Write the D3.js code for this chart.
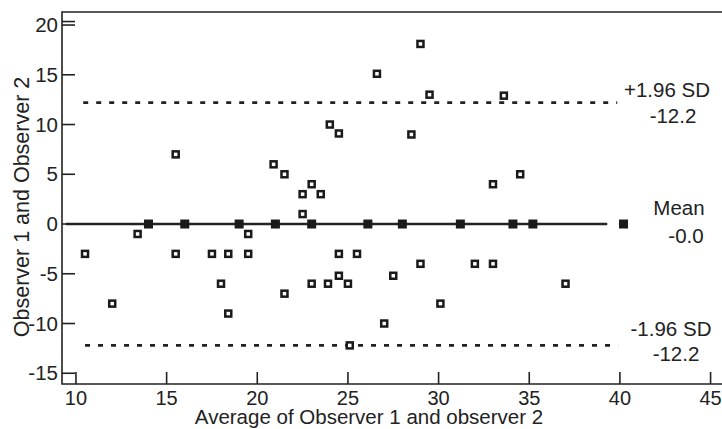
<!DOCTYPE html>
<meta charset="utf-8">
<style>
body { margin: 0; background: white; }
svg { display: block; }
text { font-family: "Liberation Sans", Arial, sans-serif; fill: #222; }
.frame { stroke: #222; stroke-width: 1.6px; fill: none; }
.tick { stroke: #222; stroke-width: 1.6px; }
.open { fill: white; stroke: #1a1a1a; stroke-width: 2.5px; }
.filled { fill: #1a1a1a; }
</style>
<svg width="722" height="429"></svg>
<script src="https://d3js.org/d3.v7.min.js"></script>
<script>
// paired averages (x) and differences (y)
var openX = [10.5, 12, 13.4, 15.5, 15.5, 17.5, 18.4, 18, 18.4, 19.5, 19.5, 21.5, 22.5, 23, 23.9,
             24.5, 24.5, 25, 25.5, 25.1, 27, 27.5, 29, 30.1, 32, 33, 37,
             29, 26.6, 29.5, 24, 24.5, 28.5, 20.9, 21.5, 23, 22.5, 23.5, 33.6, 34.5, 33];
var openY = [-3, -8, -1, -3, 7, -3, -3, -6, -9, -1, -3, -7, 1, -6, -6,
             -3, -5.2, -6, -3, -12.2, -10, -5.2, -4, -8, -4, -4, -6,
             18.1, 15.1, 13, 10, 9.1, 9, 6, 5, 4, 3, 3, 12.9, 5, 4];
var zeroX = [14, 16, 19, 21, 23, 26.1, 28, 31.2, 34.1, 35.2, 40.2];

var xTicks = [10, 15, 20, 25, 30, 35, 40, 45];
var yTicks = [-15, -10, -5, 0, 5, 10, 15, 20];

var refLines = [
  {value: 12.2, from: 10.4, to: 39.85, dashed: true, label: "+1.96 SD", sub: "-12.2"},
  {value: 0, from: 9.45, to: 39.3, dashed: false, label: "Mean", sub: "-0.0"},
  {value: -12.2, from: 10.5, to: 39.9, dashed: true, label: "-1.96 SD", sub: "-12.2"}
];

var svg = d3.select("svg");

var x = d3.scaleLinear().domain([9.23, 45.63]).range([62, 722]);
var y = d3.scaleLinear().domain([-16.08, 21.31]).range([384, 12]);

// frame: left, top, bottom
svg.append("path")
    .attr("class", "frame")
    .attr("d", "M" + x.range()[1] + "," + y.range()[1] + "H" + x.range()[0] +
               "V" + y.range()[0] + "H" + x.range()[1]);

// y ticks point inward
svg.selectAll(".ytick")
    .data(yTicks)
  .enter().append("line")
    .attr("class", "tick")
    .attr("x1", x.range()[0]).attr("x2", x.range()[0] + 13)
    .attr("y1", function(d) { return y(d); })
    .attr("y2", function(d) { return y(d); });

// the doubled tick at the top
svg.append("line")
    .attr("class", "tick")
    .attr("x1", x.range()[0]).attr("x2", x.range()[0] + 13)
    .attr("y1", y(20) - 3.5).attr("y2", y(20) - 3.5);

svg.selectAll(".ylab")
    .data(yTicks)
  .enter().append("text")
    .attr("x", x.range()[0] - 4)
    .attr("y", function(d) { return y(d) + 7; })
    .attr("text-anchor", "end")
    .style("font-size", "20.5px")
    .text(function(d) { return d; });

svg.selectAll(".xtick")
    .data(xTicks)
  .enter().append("line")
    .attr("class", "tick")
    .attr("x1", function(d) { return x(d); })
    .attr("x2", function(d) { return x(d); })
    .attr("y1", y.range()[0]).attr("y2", y.range()[0] - 12);

svg.selectAll(".xlab")
    .data(xTicks)
  .enter().append("text")
    .attr("x", function(d) { return x(d); })
    .attr("y", y.range()[0] + 21)
    .attr("text-anchor", "middle")
    .style("font-size", "20px")
    .text(function(d) { return d; });

// axis titles
svg.append("text")
    .attr("x", 369)
    .attr("y", 424)
    .attr("text-anchor", "middle")
    .style("font-size", "20.5px")
    .text("Average of Observer 1 and observer 2");

svg.append("text")
    .attr("transform", "translate(29,207) rotate(-90)")
    .attr("text-anchor", "middle")
    .style("font-size", "21.5px")
    .text("Observer 1 and Observer 2");

// mean and limits of agreement
svg.selectAll(".ref")
    .data(refLines)
  .enter().append("line")
    .attr("x1", function(d) { return x(d.from); })
    .attr("x2", function(d) { return x(d.to); })
    .attr("y1", function(d) { return y(d.value); })
    .attr("y2", function(d) { return y(d.value); })
    .attr("stroke", "#222")
    .attr("stroke-width", 2.6)
    .attr("stroke-dasharray", function(d) { return d.dashed ? "5,8" : null; });

var lab = svg.selectAll(".reflab")
    .data(refLines)
  .enter().append("g");

lab.append("text")
    .attr("x", function(d, i) { return [667, 679, 671][i]; })
    .attr("y", function(d, i) { return y(d.value) + [-6, -9, -9][i]; })
    .attr("text-anchor", "middle")
    .style("font-size", "20.5px")
    .text(function(d) { return d.label; });

lab.append("text")
    .attr("x", function(d, i) { return [673, 686, 676][i]; })
    .attr("y", function(d, i) { return y(d.value) + [20.5, 19, 16][i]; })
    .attr("text-anchor", "middle")
    .style("font-size", "20.5px")
    .text(function(d) { return d.sub; });

// points
svg.selectAll(".filled")
    .data(zeroX)
  .enter().append("rect")
    .attr("class", "filled")
    .attr("x", function(d) { return x(d) - 4.5; })
    .attr("y", y(0) - 4.5)
    .attr("width", 9).attr("height", 9);

svg.selectAll(".open")
    .data(openX)
  .enter().append("rect")
    .attr("class", "open")
    .attr("x", function(d) { return x(d) - 3; })
    .attr("y", function(d, i) { return y(openY[i]) - 3; })
    .attr("width", 6).attr("height", 6);
</script>
